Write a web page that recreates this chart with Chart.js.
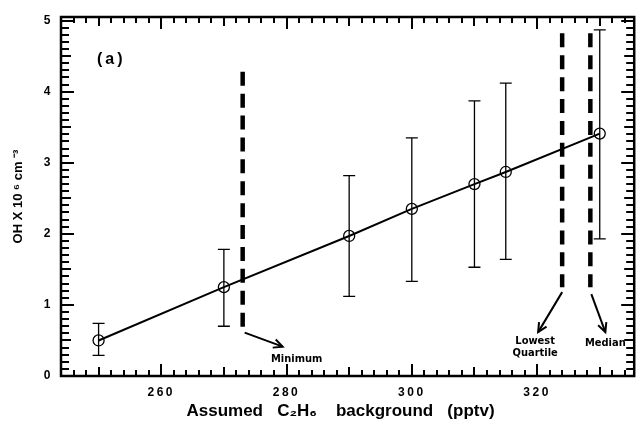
<!DOCTYPE html>
<html><head><meta charset="utf-8">
<script src="https://cdn.jsdelivr.net/npm/chart.js@4/dist/chart.umd.min.js"></script>
<style>html,body{margin:0;padding:0;background:#fff}canvas{display:block}</style>
</head><body>
<canvas id="c" width="641" height="432"></canvas>
<script>
// ---- data ----
const xValues   = [250, 270, 290, 300, 310, 315, 330];
const ohValues  = [0.50, 1.25, 1.97, 2.35, 2.70, 2.87, 3.41];
const errLow    = [0.29, 0.70, 1.12, 1.33, 1.53, 1.64, 1.93];
const errHigh   = [0.74, 1.78, 2.82, 3.35, 3.87, 4.12, 4.87];
const xTickLabels = [260, 280, 300, 320];
const yTickLabels = [0, 1, 2, 3, 4, 5];
const markerNames  = ['Minimum', 'Lowest Quartile', 'Median'];
const markerX      = [273, 324, 328.5];
const markerTop    = [4.28, 4.82, 4.82];
const markerBottom = [0.68, 1.25, 1.25];
const panelLabel = '(a)';
const xTitle = 'Assumed   C\u2082H\u2086    background   (pptv)   ';
const yTitle = 'OH X 10 \u2076 cm \u207B\u00B3';

const FONT = "'Liberation Sans', Arial, Helvetica, sans-serif";
const NARROW = "'Liberation Sans Narrow', 'Arial Narrow', 'DejaVu Sans Condensed', sans-serif";

// annotation layout (pixel offsets from the bottom end of each marker line)
const annLayout = [
  {start:[2,5], end:[40,19], text:[['Minimum',54,31]]},
  {start:[0,5], end:[-24,45], text:[['Lowest',-27,54],['Quartile',-27,66]]},
  {start:[1,7], end:[15,45], text:[['Median',15,56]]}
];

function arrow(ctx, x1, y1, x2, y2) {
  ctx.beginPath(); ctx.moveTo(x1, y1); ctx.lineTo(x2, y2); ctx.stroke();
  const ang = Math.atan2(y2 - y1, x2 - x1), L = 10, w = 0.45;
  ctx.beginPath();
  ctx.moveTo(x2 - L*Math.cos(ang - w), y2 - L*Math.sin(ang - w));
  ctx.lineTo(x2, y2);
  ctx.lineTo(x2 - L*Math.cos(ang + w), y2 - L*Math.sin(ang + w));
  ctx.stroke();
}

const decor = {
  id: 'decor',
  afterDatasetsDraw(chart) {
    const {ctx, chartArea: a, scales: {x, y}} = chart;
    ctx.save();
    ctx.strokeStyle = '#000';
    ctx.fillStyle = '#000';
    // inward tick marks on all four sides
    for (let v = 244; v <= 335; v += 2) {
      const len = v % 20 === 0 ? 12 : (v % 10 === 0 ? 9 : 6);
      const px = Math.round(x.getPixelForValue(v)) - 1;
      ctx.fillRect(px, a.bottom - len, 2, len);
      ctx.fillRect(px, a.top, 2, len);
    }
    for (let k = 0; k <= 50; k++) {
      const len = k % 10 === 0 ? 13 : (k % 5 === 0 ? 10 : 8);
      const py = Math.round(y.getPixelForValue(k / 10)) - 1;
      ctx.fillRect(a.left, py, len, 2);
      ctx.fillRect(a.right - len, py, len, 2);
    }
    // frame
    ctx.lineWidth = 2.5;
    ctx.strokeRect(a.left, a.top, a.right - a.left, a.bottom - a.top);
    // error bars
    ctx.lineWidth = 1.3;
    xValues.forEach((v, i) => {
      const px = x.getPixelForValue(v);
      const lo = y.getPixelForValue(errLow[i]);
      const hi = y.getPixelForValue(errHigh[i]);
      ctx.beginPath();
      ctx.moveTo(px, lo); ctx.lineTo(px, hi);
      ctx.moveTo(px - 6, lo); ctx.lineTo(px + 6, lo);
      ctx.moveTo(px - 6, hi); ctx.lineTo(px + 6, hi);
      ctx.stroke();
    });
    // arrows + labels
    ctx.lineWidth = 2;
    ctx.font = 'bold 11px ' + NARROW;
    ctx.textAlign = 'center'; ctx.textBaseline = 'middle';
    markerX.forEach((v, i) => {
      const bx = x.getPixelForValue(v), by = y.getPixelForValue(markerBottom[i]);
      const A = annLayout[i];
      arrow(ctx, bx + A.start[0], by + A.start[1], bx + A.end[0], by + A.end[1]);
      A.text.forEach(t => ctx.fillText(t[0], bx + t[1], by + t[2]));
    });
    // panel label
    ctx.font = 'bold 16px ' + FONT;
    ctx.letterSpacing = '3px';
    ctx.textAlign = 'left';
    ctx.fillText(panelLabel, a.left + 36, a.top + 43);
    ctx.restore();
    // tick labels (drawn next, z = 1) get wider letter spacing
    ctx.letterSpacing = '2.5px';
  },
  afterDraw(chart) { chart.ctx.letterSpacing = '0px'; }
};

const datasets = [{
  type: 'line',
  data: xValues.map((v, i) => ({x: v, y: ohValues[i]})),
  borderColor: '#000', borderWidth: 2, tension: 0,
  pointRadius: 5.5, pointStyle: 'circle',
  pointBackgroundColor: 'rgba(0,0,0,0)', pointBorderColor: '#000', pointBorderWidth: 1.3
}];
markerX.forEach((v, i) => datasets.push({
  type: 'line', label: markerNames[i],
  data: [{x: v, y: markerTop[i]}, {x: v, y: markerBottom[i]}],
  borderColor: '#000', borderWidth: 4.5, borderDash: [14, 7.9], borderCapStyle: 'butt',
  pointRadius: 0
}));

new Chart(document.getElementById('c'), {
  type: 'line',
  data: {datasets},
  plugins: [decor],
  options: {
    responsive: false, animation: false, devicePixelRatio: 1,
    layout: {padding: {left: 0, right: 5, top: 17, bottom: 0}},
    plugins: {legend: {display: false}, tooltip: {enabled: false}},
    scales: {
      x: {
        type: 'linear', min: 244, max: 335.5,
        afterBuildTicks: s => { s.ticks = xTickLabels.map(v => ({value: v})); },
        afterFit: s => { s.height = 56; },
        grid: {display: false, drawTicks: false}, border: {display: false},
        ticks: {color: '#000', font: {family: FONT, weight: 'bold', size: 12}, padding: 9,
                maxRotation: 0, autoSkip: false, z: 1},
        title: {display: true, text: xTitle, color: '#000',
                font: {family: FONT, weight: 'bold', size: 17}, padding: {top: 0, bottom: 10}}
      },
      y: {
        type: 'linear', min: 0, max: 5.05,
        afterBuildTicks: s => { s.ticks = yTickLabels.map(v => ({value: v})); },
        afterFit: s => { s.width = 61; },
        grid: {display: false, drawTicks: false}, border: {display: false},
        ticks: {color: '#000', font: {family: FONT, weight: 'bold', size: 12}, padding: 8, z: 1},
        title: {display: true, text: yTitle, color: '#000',
                font: {family: FONT, weight: 'bold', size: 13}, padding: {top: 11, bottom: 0}}
      }
    }
  }
});
</script>
</body></html>
